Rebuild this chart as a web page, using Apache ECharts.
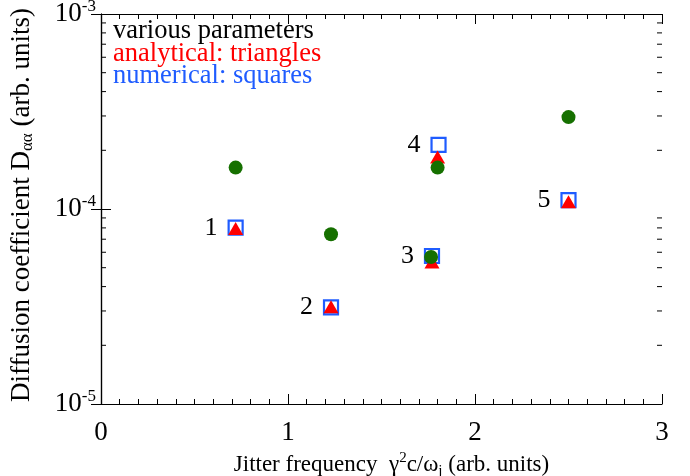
<!DOCTYPE html>
<html>
<head>
<meta charset="utf-8">
<script src="https://cdn.jsdelivr.net/npm/echarts@6/dist/echarts.min.js"></script>
<style>
  html, body { margin: 0; padding: 0; background: #fff; }
  #chart { width: 690px; height: 476px; }
</style>
</head>
<body>
<div id="chart"></div>
<script>
// Case labels and measurements (jitter frequency, diffusion coefficient)
const caseLabels = ['1', '2', '3', '4', '5'];

const paramX = [0.72, 1.23, 1.765, 1.80, 2.50];
const paramY = [1.63e-4, 7.42e-5, 5.67e-5, 1.63e-4, 2.96e-4];

const analyticX = [0.72, 1.23, 1.77, 1.80, 2.50];
const analyticY = [7.94e-5, 3.15e-5, 5.35e-5, 1.85e-4, 1.09e-4];

const numericX = [0.72, 1.23, 1.77, 1.805, 2.50];
const numericY = [8.02e-5, 3.13e-5, 5.74e-5, 2.13e-4, 1.11e-4];

// Axis ranges
const xRange = [0, 3];
const yRange = [1e-5, 1e-3];
const minorMultipliers = [2, 3, 4, 5, 6, 7, 8, 9];
const minorDecades = [1e-5, 1e-4];

const FONT = '"Liberation Serif", "DejaVu Serif", serif';

function pairs(xs, ys) { return xs.map((x, i) => [x, ys[i]]); }

const minorTickValues = [];
minorDecades.forEach(d => minorMultipliers.forEach(m => minorTickValues.push([0, m * d])));

const supRich = {
  b: { fontFamily: FONT, fontSize: 27, color: '#000', verticalAlign: 'middle' },
  s: { fontFamily: FONT, fontSize: 17, color: '#000', verticalAlign: 'top', padding: [0, 0, 14, 0] }
};

const chart = echarts.init(document.getElementById('chart'), null, { renderer: 'canvas' });

const option = {
  backgroundColor: '#fff',
  animation: false,
  grid: { left: 101, right: 28, top: 14, bottom: 72, containLabel: false, outerBoundsMode: 'none' },
  xAxis: [{
    type: 'value', min: xRange[0], max: xRange[1], interval: 1,
    position: 'bottom',
    axisLine: { show: true, lineStyle: { color: '#000', width: 1.2 } },
    axisTick: { show: true, inside: true, length: 10, lineStyle: { color: '#000' } },
    minorTick: { show: true, splitNumber: 10, length: 5, lineStyle: { color: '#000' } },
    splitLine: { show: false },
    axisLabel: { fontFamily: FONT, fontSize: 27, color: '#000', margin: 15 },
    name: '{a|Jitter frequency  γ}{s|2}{a|c/ω}{u|j}{a| (arb. units)}',
    nameLocation: 'middle', nameGap: 36,
    nameTextStyle: {
      padding: [0, 0, 0, 20],
      rich: {
        a: { fontFamily: FONT, fontSize: 23, color: '#000' },
        s: { fontFamily: FONT, fontSize: 15, color: '#000', verticalAlign: 'top', padding: [0, 0, 13, 0] },
        u: { fontFamily: FONT, fontSize: 15, color: '#000', verticalAlign: 'bottom', padding: [13, 0, 0, 0] }
      }
    }
  }, {
    type: 'value', min: xRange[0], max: xRange[1], interval: 1,
    position: 'top',
    axisLine: { show: true, lineStyle: { color: '#000', width: 1.2 } },
    axisTick: { show: true, inside: true, length: 10, lineStyle: { color: '#000' } },
    minorTick: { show: true, splitNumber: 10, length: 5, lineStyle: { color: '#000' } },
    splitLine: { show: false },
    axisLabel: { show: false }
  }],
  yAxis: [{
    type: 'log', logBase: 10, min: yRange[0], max: yRange[1],
    position: 'left',
    axisLine: { show: true, lineStyle: { color: '#000', width: 1.2 } },
    axisTick: { show: true, inside: true, length: 10, lineStyle: { color: '#000' } },
    splitLine: { show: false },
    axisLabel: {
      margin: 5,
      formatter: v => '{b|10}{s|' + Math.round(Math.log10(v)) + '}',
      rich: supRich
    },
    name: '{a|Diffusion coefficient D}{u|αα}{a| (arb. units)}',
    nameLocation: 'middle', nameRotate: 90, nameGap: 65,
    nameTextStyle: {
      padding: [0, 0, 0, 8],
      rich: {
        a: { fontFamily: FONT, fontSize: 27, color: '#000' },
        u: { fontFamily: FONT, fontSize: 17, color: '#000', verticalAlign: 'bottom', padding: [12, 0, 0, 0] }
      }
    }
  }, {
    type: 'log', logBase: 10, min: yRange[0], max: yRange[1],
    position: 'right',
    axisLine: { show: true, lineStyle: { color: '#000', width: 1.2 } },
    axisTick: { show: true, inside: true, length: 10, lineStyle: { color: '#000' } },
    splitLine: { show: false },
    axisLabel: { show: false }
  }],
  graphic: [
    { type: 'text', left: 113, top: 18, style: { text: 'various parameters', fontFamily: FONT, fontSize: 26.5, fill: '#000' } },
    { type: 'text', left: 113, top: 41, style: { text: 'analytical: triangles', fontFamily: FONT, fontSize: 26.5, fill: '#ff0000' } },
    { type: 'text', left: 113, top: 63, style: { text: 'numerical: squares', fontFamily: FONT, fontSize: 26.5, fill: '#1f5cff' } }
  ],
  series: [
    {
      // minor decade ticks (2..9) on both vertical frame edges
      type: 'custom',
      xAxisIndex: 0, yAxisIndex: 0,
      silent: true, clip: false, z: 1,
      data: minorTickValues,
      renderItem: (params, api) => {
        const v = api.value(1);
        const pl = api.coord([xRange[0], v]);
        const pr = api.coord([xRange[1], v]);
        const style = { stroke: '#000', lineWidth: 1 };
        return {
          type: 'group',
          children: [
            { type: 'line', shape: { x1: pl[0], y1: pl[1], x2: pl[0] + 5, y2: pl[1] }, style },
            { type: 'line', shape: { x1: pr[0] - 5, y1: pr[1], x2: pr[0], y2: pr[1] }, style }
          ]
        };
      }
    },
    {
      name: 'numerical',
      type: 'scatter', xAxisIndex: 0, yAxisIndex: 0, z: 3,
      symbol: 'rect', symbolSize: 14,
      itemStyle: { color: 'rgba(0,0,0,0)', borderColor: '#1f5cff', borderWidth: 2.2, opacity: 1 },
      label: {
        show: true, position: 'left', distance: 10,
        formatter: p => caseLabels[p.dataIndex],
        fontFamily: FONT, fontSize: 26, color: '#000'
      },
      data: pairs(numericX, numericY)
    },
    {
      name: 'analytical',
      type: 'scatter', xAxisIndex: 0, yAxisIndex: 0, z: 4,
      symbol: 'triangle', symbolSize: [15, 13],
      itemStyle: { color: '#ff0000', opacity: 1 },
      data: pairs(analyticX, analyticY)
    },
    {
      name: 'parameters',
      type: 'scatter', xAxisIndex: 0, yAxisIndex: 0, z: 5,
      symbol: 'circle', symbolSize: 14,
      itemStyle: { color: '#167000', opacity: 1 },
      data: pairs(paramX, paramY)
    }
  ]
};

chart.setOption(option);
</script>
</body>
</html>
